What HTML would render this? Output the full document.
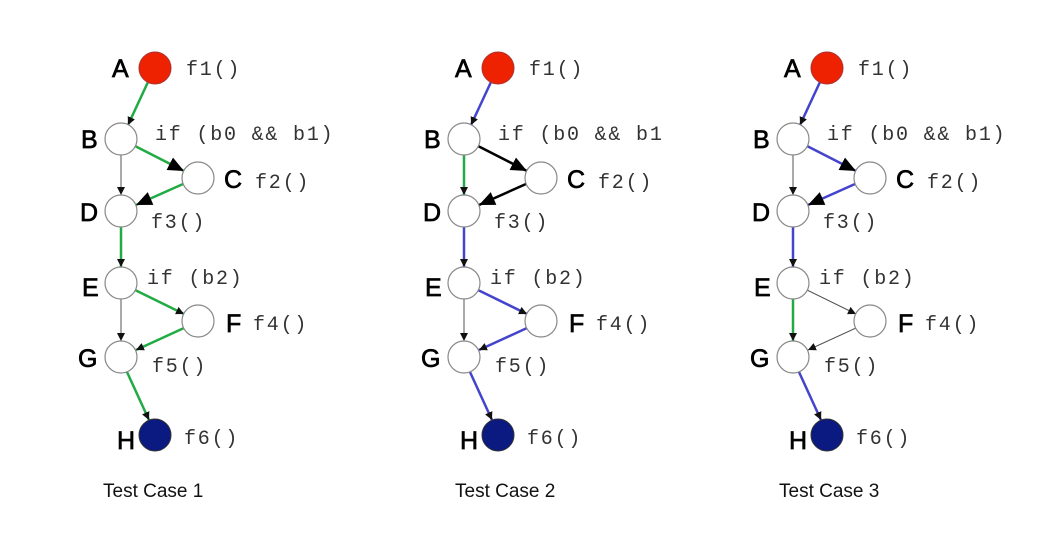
<!DOCTYPE html>
<html><head><meta charset="utf-8"><style>
body{margin:0;background:#fff;width:1037px;height:529px;overflow:hidden}
svg text{font-family:"Liberation Sans",sans-serif}
.L{font-size:25px;fill:#000;stroke:#000;stroke-width:.7}
.m{font-family:"Liberation Mono",monospace!important;font-size:20px;fill:#333;letter-spacing:1.8px}
.t{font-size:19px;fill:#111}
.n{fill:#fff;stroke:#888;stroke-width:1.2}
line{stroke-width:2.5}
</style></head><body>
<svg width="1037" height="529" viewBox="0 0 1037 529">
<defs>
<marker id="s" markerUnits="userSpaceOnUse" markerWidth="10" markerHeight="10" refX="8" refY="4" orient="auto"><path d="M0,0 L8,4 L0,8 z" fill="#111"/></marker>
<marker id="b" markerUnits="userSpaceOnUse" markerWidth="18" markerHeight="16" refX="16" refY="7" orient="auto"><path d="M0,0 L16,7 L0,14 z" fill="#000"/></marker>
<g id="nodes">
<circle cx="155" cy="68" r="16" fill="#ee2200" stroke="#a33" stroke-width="1"/>
<circle class="n" cx="121" cy="139" r="16"/>
<circle class="n" cx="198" cy="178" r="16"/>
<circle class="n" cx="121" cy="211" r="16"/>
<circle class="n" cx="121" cy="283" r="16"/>
<circle class="n" cx="198" cy="321" r="16"/>
<circle class="n" cx="121" cy="357" r="16"/>
<circle cx="155" cy="435" r="16" fill="#0a1a80" stroke="#333" stroke-width="1"/>
</g>
</defs>

<!-- Case 1 -->
<g>
<line x1="148" y1="82" x2="128" y2="125" stroke="#22aa44" marker-end="url(#s)"/>
<line x1="135" y1="146" x2="184" y2="171" stroke="#22aa44" marker-end="url(#b)"/>
<line x1="183" y1="184" x2="136" y2="205" stroke="#22aa44" marker-end="url(#b)"/>
<line x1="121" y1="155" x2="121" y2="195" stroke="#555" style="stroke-width:1" marker-end="url(#s)"/>
<line x1="121" y1="227" x2="121" y2="267" stroke="#22aa44" marker-end="url(#s)"/>
<line x1="135" y1="290" x2="184" y2="314" stroke="#22aa44" marker-end="url(#s)"/>
<line x1="184" y1="328" x2="136" y2="350" stroke="#22aa44" marker-end="url(#s)"/>
<line x1="121" y1="299" x2="121" y2="341" stroke="#555" style="stroke-width:1" marker-end="url(#s)"/>
<line x1="127" y1="372" x2="149" y2="420" stroke="#22aa44" marker-end="url(#s)"/>
<use href="#nodes"/>
<text class="L" x="112" y="77">A</text><text class="m" x="186" y="75">f1()</text>
<text class="L" x="81" y="148">B</text><text class="m" x="155" y="140">if (b0 &amp;&amp; b1)</text>
<text class="L" x="224" y="188">C</text><text class="m" x="255" y="188">f2()</text>
<text class="L" x="80" y="221">D</text><text class="m" x="151" y="228">f3()</text>
<text class="L" x="82" y="296">E</text><text class="m" x="147" y="284">if (b2)</text>
<text class="L" x="226" y="332">F</text><text class="m" x="253" y="330">f4()</text>
<text class="L" x="78" y="367">G</text><text class="m" x="152" y="372">f5()</text>
<text class="L" x="117" y="449">H</text><text class="m" x="184" y="444">f6()</text>
<text class="t" x="103" y="497">Test Case 1</text>
</g>

<!-- Case 2 -->
<g transform="translate(343,0)">
<line x1="148" y1="82" x2="128" y2="125" stroke="#4444cc" marker-end="url(#s)"/>
<line x1="135" y1="146" x2="184" y2="171" stroke="#000" marker-end="url(#b)"/>
<line x1="183" y1="184" x2="136" y2="205" stroke="#000" marker-end="url(#b)"/>
<line x1="121" y1="155" x2="121" y2="195" stroke="#22aa44" marker-end="url(#s)"/>
<line x1="121" y1="227" x2="121" y2="267" stroke="#4444cc" marker-end="url(#s)"/>
<line x1="135" y1="290" x2="184" y2="314" stroke="#4444cc" marker-end="url(#s)"/>
<line x1="184" y1="328" x2="136" y2="350" stroke="#4444cc" marker-end="url(#s)"/>
<line x1="121" y1="299" x2="121" y2="341" stroke="#555" style="stroke-width:1" marker-end="url(#s)"/>
<line x1="127" y1="372" x2="149" y2="420" stroke="#4444cc" marker-end="url(#s)"/>
<use href="#nodes"/>
<text class="L" x="112" y="77">A</text><text class="m" x="186" y="75">f1()</text>
<text class="L" x="81" y="148">B</text><text class="m" x="155" y="140">if (b0 &amp;&amp; b1</text>
<text class="L" x="224" y="188">C</text><text class="m" x="255" y="188">f2()</text>
<text class="L" x="80" y="221">D</text><text class="m" x="151" y="228">f3()</text>
<text class="L" x="82" y="296">E</text><text class="m" x="147" y="284">if (b2)</text>
<text class="L" x="226" y="332">F</text><text class="m" x="253" y="330">f4()</text>
<text class="L" x="78" y="367">G</text><text class="m" x="152" y="372">f5()</text>
<text class="L" x="117" y="449">H</text><text class="m" x="184" y="444">f6()</text>
<text class="t" x="112" y="497">Test Case 2</text>
</g>

<!-- Case 3 -->
<g transform="translate(672,0)">
<line x1="148" y1="82" x2="128" y2="125" stroke="#4444cc" marker-end="url(#s)"/>
<line x1="135" y1="146" x2="184" y2="171" stroke="#4444cc" marker-end="url(#b)"/>
<line x1="183" y1="184" x2="136" y2="205" stroke="#4444cc" marker-end="url(#b)"/>
<line x1="121" y1="155" x2="121" y2="195" stroke="#555" style="stroke-width:1" marker-end="url(#s)"/>
<line x1="121" y1="227" x2="121" y2="267" stroke="#4444cc" marker-end="url(#s)"/>
<line x1="135" y1="290" x2="184" y2="314" stroke="#555" style="stroke-width:1" marker-end="url(#s)"/>
<line x1="184" y1="328" x2="136" y2="350" stroke="#555" style="stroke-width:1" marker-end="url(#s)"/>
<line x1="121" y1="299" x2="121" y2="341" stroke="#22aa44" marker-end="url(#s)"/>
<line x1="127" y1="372" x2="149" y2="420" stroke="#4444cc" marker-end="url(#s)"/>
<use href="#nodes"/>
<text class="L" x="112" y="77">A</text><text class="m" x="186" y="75">f1()</text>
<text class="L" x="81" y="148">B</text><text class="m" x="155" y="140">if (b0 &amp;&amp; b1)</text>
<text class="L" x="224" y="188">C</text><text class="m" x="255" y="188">f2()</text>
<text class="L" x="80" y="221">D</text><text class="m" x="151" y="228">f3()</text>
<text class="L" x="82" y="296">E</text><text class="m" x="147" y="284">if (b2)</text>
<text class="L" x="226" y="332">F</text><text class="m" x="253" y="330">f4()</text>
<text class="L" x="78" y="367">G</text><text class="m" x="152" y="372">f5()</text>
<text class="L" x="117" y="449">H</text><text class="m" x="184" y="444">f6()</text>
<text class="t" x="107" y="497">Test Case 3</text>
</g>
</svg>
</body></html>
